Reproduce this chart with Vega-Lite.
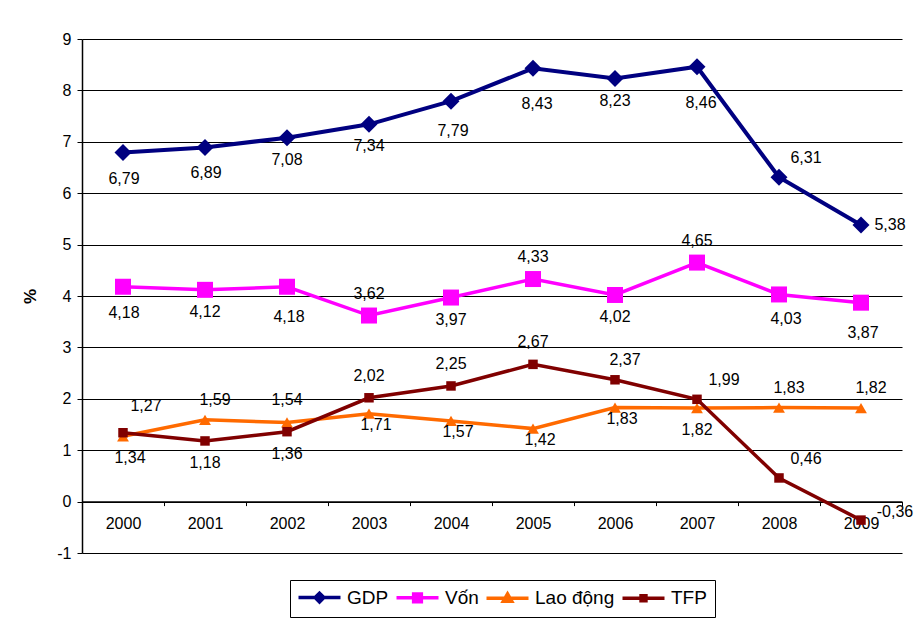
{
  "$schema": "https://vega.github.io/schema/vega-lite/v6.json",
  "width": 820,
  "height": 514,
  "autosize": {"type": "none"},
  "padding": {"left": 82, "top": 39, "right": 12, "bottom": 66},
  "background": "white",
  "config": {
    "locale": {"number": {"decimal": ",", "thousands": ".", "grouping": [3], "currency": ["", ""], "minus": "-"}},
    "font": "Liberation Sans",
    "view": {"stroke": null}
  },
  "data": {
    "values": [
      {"series": "GDP", "year": "2000", "value": 6.79},
      {"series": "GDP", "year": "2001", "value": 6.89},
      {"series": "GDP", "year": "2002", "value": 7.08},
      {"series": "GDP", "year": "2003", "value": 7.34},
      {"series": "GDP", "year": "2004", "value": 7.79},
      {"series": "GDP", "year": "2005", "value": 8.43},
      {"series": "GDP", "year": "2006", "value": 8.23},
      {"series": "GDP", "year": "2007", "value": 8.46},
      {"series": "GDP", "year": "2008", "value": 6.31},
      {"series": "GDP", "year": "2009", "value": 5.38},
      {"series": "Vốn", "year": "2000", "value": 4.18},
      {"series": "Vốn", "year": "2001", "value": 4.12},
      {"series": "Vốn", "year": "2002", "value": 4.18},
      {"series": "Vốn", "year": "2003", "value": 3.62},
      {"series": "Vốn", "year": "2004", "value": 3.97},
      {"series": "Vốn", "year": "2005", "value": 4.33},
      {"series": "Vốn", "year": "2006", "value": 4.02},
      {"series": "Vốn", "year": "2007", "value": 4.65},
      {"series": "Vốn", "year": "2008", "value": 4.03},
      {"series": "Vốn", "year": "2009", "value": 3.87},
      {"series": "Lao động", "year": "2000", "value": 1.27},
      {"series": "Lao động", "year": "2001", "value": 1.59},
      {"series": "Lao động", "year": "2002", "value": 1.54},
      {"series": "Lao động", "year": "2003", "value": 1.71},
      {"series": "Lao động", "year": "2004", "value": 1.57},
      {"series": "Lao động", "year": "2005", "value": 1.42},
      {"series": "Lao động", "year": "2006", "value": 1.83},
      {"series": "Lao động", "year": "2007", "value": 1.82},
      {"series": "Lao động", "year": "2008", "value": 1.83},
      {"series": "Lao động", "year": "2009", "value": 1.82},
      {"series": "TFP", "year": "2000", "value": 1.34},
      {"series": "TFP", "year": "2001", "value": 1.18},
      {"series": "TFP", "year": "2002", "value": 1.36},
      {"series": "TFP", "year": "2003", "value": 2.02},
      {"series": "TFP", "year": "2004", "value": 2.25},
      {"series": "TFP", "year": "2005", "value": 2.67},
      {"series": "TFP", "year": "2006", "value": 2.37},
      {"series": "TFP", "year": "2007", "value": 1.99},
      {"series": "TFP", "year": "2008", "value": 0.46},
      {"series": "TFP", "year": "2009", "value": -0.36}
    ]
  },
  "encoding": {
    "x": {
      "field": "year", "type": "ordinal",
      "scale": {"type": "band", "paddingInner": 0, "paddingOuter": 0},
      "axis": {"title": null, "offset": -51.4, "grid": false, "tickBand": "extent", "tickSize": 4, "tickColor": "black", "domainColor": "black", "domainWidth": 1.5, "labelAngle": 0, "labelFontSize": 16, "labelColor": "black", "labelPadding": 10}
    },
    "y": {
      "field": "value", "type": "quantitative",
      "scale": {"domain": [-1, 9], "nice": false, "zero": false},
      "axis": {"title": "%", "values": [-1, 0, 1, 2, 3, 4, 5, 6, 7, 8, 9], "format": "d", "grid": true, "gridColor": "black", "gridWidth": 1.2, "domainColor": "black", "domainWidth": 1.5, "tickColor": "black", "tickSize": 5, "labelFontSize": 16, "labelColor": "black", "labelPadding": 6, "titleFontSize": 17, "titleFontWeight": "bold", "titleColor": "black", "titleAngle": 270, "titleX": -52, "titleY": 257, "titleAlign": "center", "titleBaseline": "middle"}
    },
    "color": {
      "field": "series", "type": "nominal",
      "scale": {"domain": ["GDP", "Vốn", "Lao động", "TFP"], "range": ["#000080", "#FF00FF", "#FF6A00", "#800000"]},
      "legend": {
        "title": null, "orient": "none", "legendX": 208, "legendY": 541, "direction": "horizontal", "columns": 4,
        "strokeColor": "black", "padding": 8, "labelFontSize": 19, "labelColor": "black",
        "symbolSize": 196, "symbolStrokeWidth": 3.5, "columnPadding": 0, "labelOffset": 18, "symbolOffset": 12,
        "encode": {
          "symbols": {
            "update": {
              "shape": {"signal": "datum.value === 'GDP' ? 'M-3,0H3M0,-0.62L0.62,0L0,0.62L-0.62,0Z' : datum.value === 'Vốn' ? 'M-3,0H3M-0.55,-0.55H0.55V0.55H-0.55Z' : datum.value === 'Lao động' ? 'M-3,0H3M0,-0.6L0.6,0.45H-0.6Z' : 'M-3,0H3M-0.35,-0.35H0.35V0.35H-0.35Z'"},
              "fill": {"scale": "color", "field": "value"},
              "stroke": {"scale": "color", "field": "value"},
              "strokeWidth": {"value": 3.5},
              "opacity": {"value": 1},
              "fillOpacity": {"value": 1},
              "strokeOpacity": {"value": 1}
            }
          }
        }
      }
    }
  },
  "layer": [
    {
      "transform": [{"filter": "datum.series === 'GDP'"}],
      "mark": {"type": "line", "strokeWidth": 4}
    },
    {
      "transform": [{"filter": "datum.series !== 'GDP'"}],
      "mark": {"type": "line", "strokeWidth": 3.5}
    },
    {
      "transform": [{"filter": "datum.series === 'GDP'"}],
      "mark": {"type": "point", "filled": true, "opacity": 1, "shape": "diamond", "size": 290}
    },
    {
      "transform": [{"filter": "datum.series === 'Vốn'"}],
      "mark": {"type": "point", "filled": true, "opacity": 1, "shape": "square", "size": 256}
    },
    {
      "transform": [{"filter": "datum.series === 'Lao động'"}],
      "mark": {"type": "point", "filled": true, "opacity": 1, "shape": "triangle-up", "size": 140}
    },
    {
      "transform": [{"filter": "datum.series === 'TFP'"}],
      "mark": {"type": "point", "filled": true, "opacity": 1, "shape": "square", "size": 90}
    },
    {
      "transform": [{"filter": "indexof(['GDP|2002','GDP|2003','GDP|2006','TFP|2002','Lao động|2007','TFP|2001','Vốn|2001','Vốn|2004','Vốn|2006'], datum.series + '|' + datum.year) >= 0"}],
      "mark": {"type": "text", "dx": 0, "dy": 22, "fontSize": 16, "baseline": "middle", "align": "center"},
      "encoding": {"text": {"field": "value", "type": "quantitative", "format": ".2f"}, "color": {"value": "black"}}
    },
    {
      "transform": [{"filter": "indexof(['GDP|2000','GDP|2001','Vốn|2000'], datum.series + '|' + datum.year) >= 0"}],
      "mark": {"type": "text", "dx": 1, "dy": 26, "fontSize": 16, "baseline": "middle", "align": "center"},
      "encoding": {"text": {"field": "value", "type": "quantitative", "format": ".2f"}, "color": {"value": "black"}}
    },
    {
      "transform": [{"filter": "indexof(['TFP|2000','Vốn|2008'], datum.series + '|' + datum.year) >= 0"}],
      "mark": {"type": "text", "dx": 7, "dy": 25, "fontSize": 16, "baseline": "middle", "align": "center"},
      "encoding": {"text": {"field": "value", "type": "quantitative", "format": ".2f"}, "color": {"value": "black"}}
    },
    {
      "transform": [{"filter": "indexof(['GDP|2004','Vốn|2002','Vốn|2009'], datum.series + '|' + datum.year) >= 0"}],
      "mark": {"type": "text", "dx": 2, "dy": 30, "fontSize": 16, "baseline": "middle", "align": "center"},
      "encoding": {"text": {"field": "value", "type": "quantitative", "format": ".2f"}, "color": {"value": "black"}}
    },
    {
      "transform": [{"filter": "indexof(['GDP|2005','GDP|2007'], datum.series + '|' + datum.year) >= 0"}],
      "mark": {"type": "text", "dx": 4, "dy": 36, "fontSize": 16, "baseline": "middle", "align": "center"},
      "encoding": {"text": {"field": "value", "type": "quantitative", "format": ".2f"}, "color": {"value": "black"}}
    },
    {
      "transform": [{"filter": "indexof(['Vốn|2003','Vốn|2005','Vốn|2007','TFP|2003','TFP|2004','TFP|2005','Lao động|2002'], datum.series + '|' + datum.year) >= 0"}],
      "mark": {"type": "text", "dx": 0, "dy": -22, "fontSize": 16, "baseline": "middle", "align": "center"},
      "encoding": {"text": {"field": "value", "type": "quantitative", "format": ".2f"}, "color": {"value": "black"}}
    },
    {
      "transform": [{"filter": "indexof(['TFP|2006','Lao động|2001','Lao động|2008','Lao động|2009'], datum.series + '|' + datum.year) >= 0"}],
      "mark": {"type": "text", "dx": 10, "dy": -20, "fontSize": 16, "baseline": "middle", "align": "center"},
      "encoding": {"text": {"field": "value", "type": "quantitative", "format": ".2f"}, "color": {"value": "black"}}
    },
    {
      "transform": [{"filter": "indexof(['GDP|2008','TFP|2007','TFP|2008'], datum.series + '|' + datum.year) >= 0"}],
      "mark": {"type": "text", "dx": 27, "dy": -19, "fontSize": 16, "baseline": "middle", "align": "center"},
      "encoding": {"text": {"field": "value", "type": "quantitative", "format": ".2f"}, "color": {"value": "black"}}
    },
    {
      "transform": [{"filter": "indexof(['Lao động|2000'], datum.series + '|' + datum.year) >= 0"}],
      "mark": {"type": "text", "dx": 23, "dy": -30, "fontSize": 16, "baseline": "middle", "align": "center"},
      "encoding": {"text": {"field": "value", "type": "quantitative", "format": ".2f"}, "color": {"value": "black"}}
    },
    {
      "transform": [{"filter": "indexof(['GDP|2009'], datum.series + '|' + datum.year) >= 0"}],
      "mark": {"type": "text", "dx": 29, "dy": 0, "fontSize": 16, "baseline": "middle", "align": "center"},
      "encoding": {"text": {"field": "value", "type": "quantitative", "format": ".2f"}, "color": {"value": "black"}}
    },
    {
      "transform": [{"filter": "indexof(['TFP|2009'], datum.series + '|' + datum.year) >= 0"}],
      "mark": {"type": "text", "dx": 34, "dy": -8, "fontSize": 16, "baseline": "middle", "align": "center"},
      "encoding": {"text": {"field": "value", "type": "quantitative", "format": ".2f"}, "color": {"value": "black"}}
    },
    {
      "transform": [{"filter": "indexof(['Lao động|2003','Lao động|2004','Lao động|2005','Lao động|2006'], datum.series + '|' + datum.year) >= 0"}],
      "mark": {"type": "text", "dx": 7, "dy": 11, "fontSize": 16, "baseline": "middle", "align": "center"},
      "encoding": {"text": {"field": "value", "type": "quantitative", "format": ".2f"}, "color": {"value": "black"}}
    }
  ]
}
